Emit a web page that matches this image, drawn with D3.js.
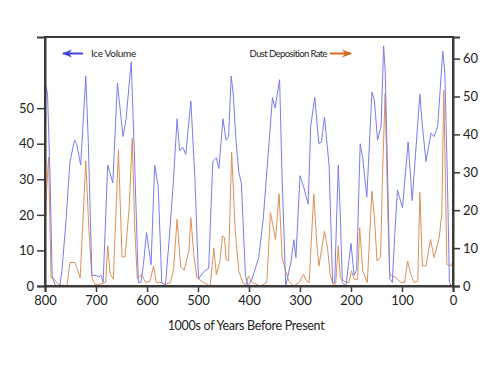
<!DOCTYPE html>
<html>
<head>
<meta charset="utf-8">
<script src="https://cdn.jsdelivr.net/npm/d3@7"></script>
<style>
    body { margin: 0; background: #fff; }
    text { font-family: Lato, "Liberation Sans", sans-serif; fill: #222; }
</style>
</head>
<body>
<div id="chart"></div>
<script>
// Ice volume (left axis): [kyr before present, value]
const iceYears = [800,798,795,790,786,781,776,771,767,759,751,742,738,730,720,715,708,700,695,690,686,677,667,658,647,641,631,625,617,612,607,601,592,585,578,571,564,556,548,541,536,530,524,514,506,499,489,479,471,464,459,451,445,440,435,431,425,420,415,407,402,394,381,372,364,354,349,340,335,328,318,312,308,300,293,284,279,271,263,258,252,243,239,236,232,225,221,217,210,200,194,189,182,177,169,159,154,148,141,136,133,128,124,119,114,109,99,88,80,65,60,53,43,37,30,20,16,11,7,3,0];
const iceVolume = [52,56,54,30,3,0.5,0,0,4,18,35,41,40,34,59,40,3,3,2.5,3,1,34,29,57,42,47,63,38,1,1,6,15,6,34,28,1,0,14,30,47,38,39,37,52,30,2,4,5,35,36,33,47,41,42,59,54,40,32,29,3,0,2,8,19,34,53,50,58,30,0,6.5,13,8,31,28,23,45,53,40,40.5,47.5,34,15,1,1,34,20,1,0,12,3,4.6,40,36,25,54.5,52,41,45,67.5,60.5,30,2,1,15,27,22,40.5,24,54,45,35,43,42,45,66,60,30,1,0,0];

// Dust deposition rate (right axis)
const dustYears = [800,797,793,790,788,782,774,757,751,741,731,720,714,708,702,690,681,677,672,666,656,649,643,635,629,624,619,610,603,594,587,582,575,564,554,548,541,534,527,518,514,508,502,489,476,469,464,457,452,448,445,440,434,427,420,413,407,401,394,377,365,358,351,348,341,335,328,322,312,302,293,288,282,273,267,263,258,252,246,241,235,230,225,221,214,204,199,194,187,183,177,168,159,154,149,142,138,133,128,124,119,112,102,95,89,83,76,69,65,60,53,44,37,27,22,18,12,4,0];
const dustRate = [13,25,34,15,2.2,1.8,0.4,0,6.2,6.2,2.2,33,15,2.2,0.4,0.5,1,10.6,3.1,1.8,36,7.7,7.7,20.5,39,15,2,3,0.9,1.3,5.3,0.9,1,0.4,0.9,4.4,17.6,5,4.2,9.3,18,8,2.2,0.9,0,10,3,6.6,13.2,12.8,7,6.6,35.3,14.5,4,1.3,0,2.6,0.9,0,1,19.4,14.5,12.3,24.3,7.5,4,1.3,0,0.9,3.1,1.5,0.9,24.3,11,5.3,9.3,14.5,10,3.1,0.4,0.6,10.6,2.2,1.3,0.9,4,1.8,1.8,15.4,4,0.9,25,18,6.6,7.5,30.4,50.7,20,3.1,2.6,2.2,0.9,0.9,6.6,3.1,0.9,1.3,24.7,5.3,5.3,12.3,7.5,12.8,19,51.6,5.7,5.3,6.6];

const xTicks = [800,700,600,500,400,300,200,100,0];
const leftTicks = [0,10,20,30,40,50];
const rightTicks = [0,10,20,30,40,50,60];

const width = 500, height = 375;
const margin = {top: 37, right: 47, bottom: 89, left: 45};
const w = width - margin.left - margin.right;
const h = height - margin.top - margin.bottom;

let svg = d3.select("#chart").append("svg")
    .attr("width", width)
    .attr("height", height);

let g = svg.append("g").attr("transform", "translate(" + margin.left + "," + margin.top + ")");

// scales
let xScale = d3.scaleLinear().domain([800, 0]).range([0, w]);
let yLeft = d3.scaleLinear().domain([0, 70]).range([h, 0]);
let yRight = d3.scaleLinear().domain([0, 65.7]).range([h, 0]);

// lines
let iceLine = d3.line()
    .x((d, i) => xScale(iceYears[i]))
    .y(d => yLeft(d));
let dustLine = d3.line()
    .x((d, i) => xScale(dustYears[i]))
    .y(d => yRight(d));

g.append("path")
    .attr("d", dustLine(dustRate))
    .attr("fill", "none")
    .attr("stroke", "#dc9058")
    .attr("stroke-width", 1);

g.append("path")
    .attr("d", iceLine(iceVolume))
    .attr("fill", "none")
    .attr("stroke", "#7b7bf0")
    .attr("stroke-width", 1);

// frame
g.append("rect")
    .attr("width", w)
    .attr("height", h)
    .attr("fill", "none")
    .attr("stroke", "#3a3a3a")
    .attr("stroke-width", 2);

// axes
let xAxis = d3.axisBottom(xScale).tickValues(xTicks).tickSize(6).tickPadding(4).tickFormat(d3.format("d"));
let gx = g.append("g").attr("transform", "translate(0," + h + ")").call(xAxis);

let leftAxis = d3.axisLeft(yLeft).tickValues(leftTicks).tickSize(8).tickPadding(3);
let gl = g.append("g").call(leftAxis);

let rightAxis = d3.axisRight(yRight).tickValues(rightTicks).tickSize(7).tickPadding(3);
let gr = g.append("g").attr("transform", "translate(" + w + ",0)").call(rightAxis);

[gx, gl, gr].forEach(a => {
    a.select(".domain").attr("stroke", "#3a3a3a").attr("stroke-width", 2);
    a.selectAll(".tick line").attr("stroke", "#3a3a3a").attr("stroke-width", 1.5);
    a.selectAll("text").style("font-size", "13px").attr("fill", "#222");
});

// x axis title
g.append("text")
    .attr("x", xScale(400) - 3)
    .attr("y", h + 44)
    .attr("text-anchor", "middle")
    .style("font-size", "12.5px")
    .style("letter-spacing", "-0.3px")
    .text("1000s of  Years Before Present");

// legend arrows
svg.append("defs").selectAll("marker")
    .data([["arrBlue", "#4444dd"], ["arrOrange", "#d2691e"]])
    .enter().append("marker")
    .attr("id", d => d[0])
    .attr("viewBox", "0 0 10 10")
    .attr("refX", 9).attr("refY", 5)
    .attr("markerWidth", 5).attr("markerHeight", 5)
    .attr("orient", "auto")
    .append("path")
    .attr("d", "M0,1 L10,5 L0,9 L3,5 Z")
    .attr("fill", d => d[1]);

svg.append("line")
    .attr("x1", 83).attr("y1", 53.5).attr("x2", 63).attr("y2", 53.5)
    .attr("stroke", "#4444dd").attr("stroke-width", 2)
    .attr("marker-end", "url(#arrBlue)");
svg.append("text")
    .attr("x", 91).attr("y", 57)
    .style("font-size", "10px")
    .style("letter-spacing", "-0.3px")
    .text("Ice Volume");

svg.append("text")
    .attr("x", 327).attr("y", 57)
    .attr("text-anchor", "end")
    .style("font-size", "9.5px")
    .style("letter-spacing", "-0.6px")
    .text("Dust Deposition Rate");
svg.append("line")
    .attr("x1", 330).attr("y1", 53.5).attr("x2", 351).attr("y2", 53.5)
    .attr("stroke", "#d2691e").attr("stroke-width", 2)
    .attr("marker-end", "url(#arrOrange)");
</script>
</body>
</html>
